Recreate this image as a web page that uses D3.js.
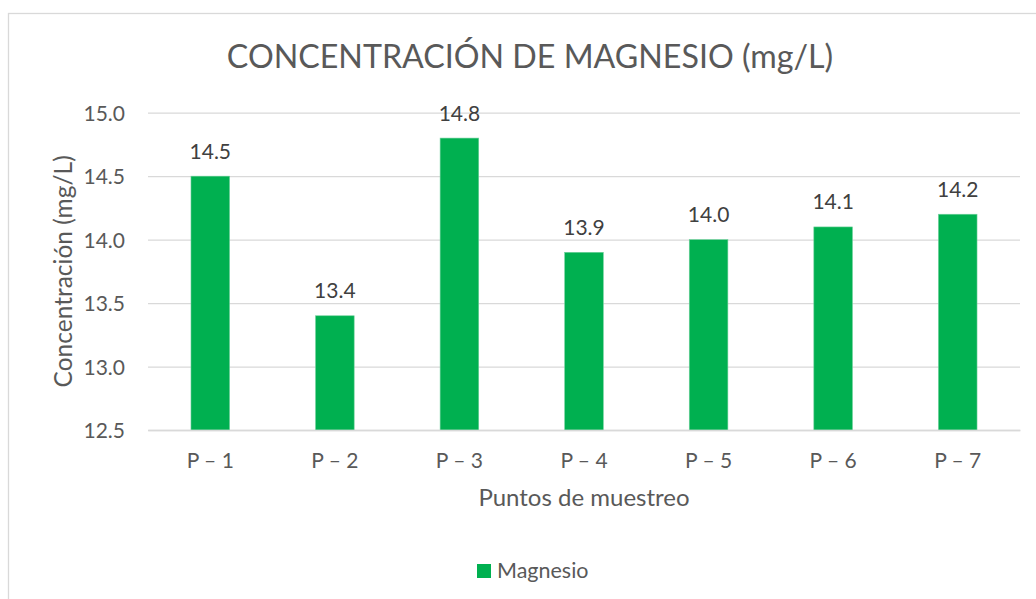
<!DOCTYPE html>
<html>
<head>
<meta charset="utf-8">
<script src="https://cdn.jsdelivr.net/npm/d3@7"></script>
<style>
  html, body { margin: 0; padding: 0; background: #fff; }
  svg { display: block; font-family: Lato, "Open Sans", sans-serif; }
</style>
</head>
<body>
<svg id="chart" width="1036" height="599"></svg>
<script>
const categories = ["P – 1", "P – 2", "P – 3", "P – 4", "P – 5", "P – 6", "P – 7"];
const values = [14.5, 13.4, 14.8, 13.9, 14.0, 14.1, 14.2];
const yTicks = [12.5, 13.0, 13.5, 14.0, 14.5, 15.0];
const seriesName = "Magnesio";
const title = "CONCENTRACIÓN DE MAGNESIO (mg/L)";
const xTitle = "Puntos de muestreo";
const yTitle = "Concentración (mg/L)";

const svg = d3.select("#chart");
const W = 1036, H = 599;
const plot = { left: 148, right: 1020, top: 112.7, bottom: 430 };
const textColor = "#595959";
const gridColor = "#d9d9d9";
const barColor = "#00B050";

// outer chart border
svg.append("rect")
  .attr("x", 8.5).attr("y", 13.5)
  .attr("width", W + 20).attr("height", H + 20)
  .attr("fill", "#fff").attr("stroke", gridColor).attr("stroke-width", 1.3);

const x = d3.scaleBand().domain(categories)
  .range([plot.left, plot.right]).paddingInner(0.69).paddingOuter(0.345);
const y = d3.scaleLinear().domain([12.5, 15.0]).range([plot.bottom, plot.top]);

// gridlines + y labels
const yAxis = d3.axisLeft(y).tickValues(yTicks).tickFormat(d3.format(".1f"))
  .tickSize(-(plot.right - plot.left)).tickPadding(23);
const gy = svg.append("g").attr("transform", `translate(${plot.left},0)`).call(yAxis);
gy.select(".domain").remove();
gy.selectAll(".tick line").attr("stroke", gridColor).attr("stroke-width", 1.3);
gy.selectAll(".tick text").attr("fill", textColor).attr("font-size", 21)
  .attr("font-family", "Lato, sans-serif").attr("dy", "0.36em");

// bars
svg.append("g").selectAll("rect").data(values).join("rect")
  .attr("x", (d, i) => x(categories[i]))
  .attr("y", d => y(d))
  .attr("width", x.bandwidth())
  .attr("height", d => y(12.5) - y(d))
  .attr("fill", barColor)
  .attr("stroke", "#6fd19c").attr("stroke-width", 0.6);

// data labels
svg.append("g").selectAll("text").data(values).join("text")
  .attr("x", (d, i) => x(categories[i]) + x.bandwidth() / 2)
  .attr("y", d => y(d) - 17.5)
  .attr("text-anchor", "middle")
  .attr("font-size", 21).attr("fill", "#404040")
  .text(d => d3.format(".1f")(d));

// x axis
const xAxis = d3.axisBottom(x).tickSize(0).tickPadding(0);
const gx = svg.append("g").attr("transform", `translate(0,${plot.bottom})`).call(xAxis);
gx.select(".domain").attr("stroke", gridColor).attr("stroke-width", 1.3);
gx.selectAll(".tick text").attr("fill", textColor).attr("font-size", 21)
  .attr("font-family", "Lato, sans-serif").attr("dy", null).attr("y", 38);

// title
svg.append("text").attr("x", 530).attr("y", 67.7).attr("text-anchor", "middle")
  .attr("font-size", 32.2).attr("fill", textColor).text(title);

// x title
svg.append("text").attr("x", (plot.left + plot.right) / 2).attr("y", 506)
  .attr("text-anchor", "middle").attr("font-size", 24).attr("fill", textColor).text(xTitle);

// y title
svg.append("text")
  .attr("transform", `translate(72,${(plot.top + plot.bottom) / 2}) rotate(-90)`)
  .attr("text-anchor", "middle").attr("font-size", 24.5).attr("fill", textColor).text(yTitle);

// legend
const lg = svg.append("g");
lg.append("rect").attr("x", 477).attr("y", 564).attr("width", 14).attr("height", 14).attr("fill", barColor);
lg.append("text").attr("x", 497).attr("y", 577.7).attr("font-size", 21.5).attr("fill", textColor).text(seriesName);
</script>
</body>
</html>
